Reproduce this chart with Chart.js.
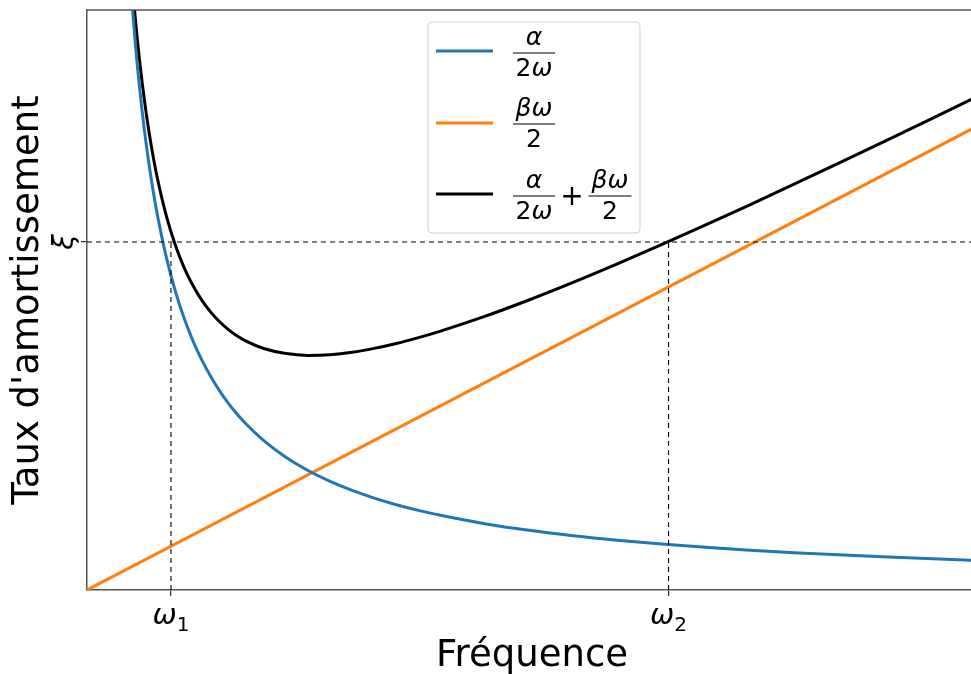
<!DOCTYPE html>
<html>
<head>
<meta charset="utf-8">
<script src="https://cdn.jsdelivr.net/npm/chart.js@4/dist/chart.umd.min.js"></script>
<style>
  html, body { margin: 0; padding: 0; background: #fff; overflow: hidden; }
  #wrap { width: 977px; height: 674px; }
</style>
</head>
<body>
<div id="wrap"><canvas id="mycanvas"></canvas></div>
<script>
// values (x: frequency, y: damping ratio)
var omega = [0.45, 0.5, 0.55, 0.6, 0.65, 0.7, 0.75, 0.8, 0.9, 1.0, 1.1, 1.2, 1.3, 1.4, 1.5, 1.6, 1.7, 1.8, 2.0, 2.25, 2.5, 2.75, 3.0, 3.25, 3.5, 3.75, 4.0, 4.5, 5.0, 5.5, 6.0, 6.5, 7.0, 7.5, 8.0, 8.5, 9.0, 9.5, 10.0, 10.5];
var alphaPart = [11.444, 10.30, 9.364, 8.583, 7.923, 7.357, 6.867, 6.438, 5.722, 5.150, 4.682, 4.292, 3.962, 3.679, 3.433, 3.219, 3.029, 2.861, 2.575, 2.289, 2.060, 1.873, 1.717, 1.585, 1.471, 1.373, 1.288, 1.144, 1.030, 0.936, 0.858, 0.792, 0.736, 0.687, 0.644, 0.606, 0.572, 0.542, 0.515, 0.490];
var totalPart = [11.801, 10.697, 9.801, 9.059, 8.439, 7.913, 7.463, 7.073, 6.437, 5.944, 5.555, 5.245, 4.994, 4.791, 4.624, 4.489, 4.379, 4.290, 4.163, 4.076, 4.045, 4.057, 4.099, 4.166, 4.250, 4.351, 4.464, 4.717, 5.000, 5.303, 5.622, 5.953, 6.294, 6.642, 6.996, 7.355, 7.718, 8.085, 8.455, 8.827];
var betaX = [0, 10.5];
var betaPart = [0, 8.337];
var omega1 = 0.95;
var omega2 = 6.58;
var xi = 6.0;
var xTickLabels = [["ω", "1"], ["ω", "2"]];
var yTickLabel = "ξ";

function pts(xs, ys) {
	var out = [];
	for (var i in xs) out.push({x: xs[i], y: ys[i]});
	return out;
}

var dashed = {
	borderColor: "#000",
	borderWidth: 1.1,
	borderDash: [5, 4],
	pointRadius: 0,
	fill: false
};

var chartdata = {
	datasets: [
		Object.assign({label: "xi", data: [{x: 0, y: xi}, {x: 10.5, y: xi}]}, dashed),
		Object.assign({label: "w1", data: [{x: omega1, y: 0}, {x: omega1, y: xi}]}, dashed),
		Object.assign({label: "w2", data: [{x: omega2, y: 0}, {x: omega2, y: xi}]}, dashed),
		{
			label: "alpha",
			data: pts(omega, alphaPart),
			borderColor: "#1f77b4",
			borderWidth: 3,
			pointRadius: 0,
			cubicInterpolationMode: "monotone",
			fill: false
		},
		{
			label: "beta",
			data: pts(betaX, betaPart),
			borderColor: "#ff7f0e",
			borderWidth: 3,
			pointRadius: 0,
			fill: false
		},
		{
			label: "sum",
			data: pts(omega, totalPart),
			borderColor: "#000000",
			borderWidth: 3,
			pointRadius: 0,
			cubicInterpolationMode: "monotone",
			fill: false
		}
	]
};

var SANS = "'DejaVu Sans', sans-serif";

// draws a run of [text, italic] pieces centred on cx
function mathText(ctx, parts, cx, y, size) {
	var w = 0;
	parts.forEach(function(p) {
		ctx.font = (p[1] ? "italic " : "") + size + "px " + SANS;
		p.w = ctx.measureText(p[0]).width;
		w += p.w;
	});
	var x = cx - w / 2;
	ctx.textAlign = "left";
	parts.forEach(function(p) {
		ctx.font = (p[1] ? "italic " : "") + size + "px " + SANS;
		ctx.fillText(p[0], x, y);
		x += p.w;
	});
}

function frac(ctx, cx, y, num, den, w) {
	mathText(ctx, num, cx, y - 15, 25);
	mathText(ctx, den, cx, y + 16, 25);
	ctx.beginPath();
	ctx.moveTo(cx - w / 2, y);
	ctx.lineTo(cx + w / 2, y);
	ctx.lineWidth = 1.2;
	ctx.strokeStyle = "#000";
	ctx.stroke();
}

var extras = {
	id: "extras",
	afterDraw: function(chart) {
		var ctx = chart.ctx;
		var a = chart.chartArea;
		ctx.save();
		// top spine
		ctx.strokeStyle = "#555";
		ctx.lineWidth = 1.5;
		ctx.beginPath();
		ctx.moveTo(a.left, a.top);
		ctx.lineTo(a.right, a.top);
		ctx.stroke();

		ctx.fillStyle = "#000";
		// y tick label, turned like the axis title
		var py = chart.scales.y.getPixelForValue(xi);
		ctx.save();
		ctx.translate(a.left - 21, py);
		ctx.rotate(-Math.PI / 2);
		ctx.textAlign = "center";
		ctx.textBaseline = "middle";
		ctx.font = "italic 28px " + SANS;
		ctx.fillText(yTickLabel, 0, 0);
		ctx.restore();

		// x tick labels (omega with upright subscript)
		ctx.textBaseline = "alphabetic";
		[omega1, omega2].forEach(function(v, i) {
			var px = chart.scales.x.getPixelForValue(v);
			ctx.textAlign = "left";
			ctx.font = "italic 29px " + SANS;
			var w1 = ctx.measureText(xTickLabels[i][0]).width;
			ctx.font = "20px " + SANS;
			var w2 = ctx.measureText(xTickLabels[i][1]).width;
			var x0 = px - (w1 + w2) / 2;
			ctx.font = "italic 29px " + SANS;
			ctx.fillText(xTickLabels[i][0], x0, a.bottom + 34);
			ctx.font = "20px " + SANS;
			ctx.fillText(xTickLabels[i][1], x0 + w1, a.bottom + 41);
		});

		// legend box
		var bx = 428, by = 22, bw = 212, bh = 211;
		ctx.beginPath();
		if (ctx.roundRect) ctx.roundRect(bx, by, bw, bh, 4); else ctx.rect(bx, by, bw, bh);
		ctx.fillStyle = "rgba(255,255,255,0.85)";
		ctx.fill();
		ctx.strokeStyle = "#d0d0d0";
		ctx.lineWidth = 1;
		ctx.stroke();

		var rows = [
			{y: 51, c: "#1f77b4"},
			{y: 123, c: "#ff7f0e"},
			{y: 194, c: "#000000"}
		];
		ctx.lineWidth = 3;
		rows.forEach(function(r) {
			ctx.strokeStyle = r.c;
			ctx.beginPath();
			ctx.moveTo(436, r.y);
			ctx.lineTo(493, r.y);
			ctx.stroke();
		});

		ctx.fillStyle = "#000";
		ctx.textBaseline = "middle";
		frac(ctx, 534, 53, [["α", true]], [["2", false], ["ω", true]], 42);
		frac(ctx, 534, 124, [["β", true], ["ω", true]], [["2", false]], 42);
		frac(ctx, 534, 196, [["α", true]], [["2", false], ["ω", true]], 42);
		frac(ctx, 610, 196, [["β", true], ["ω", true]], [["2", false]], 43);
		ctx.textAlign = "center";
		ctx.font = "28px " + SANS;
		ctx.fillText("+", 572, 198);
		ctx.restore();
	}
};

var ctx = document.getElementById("mycanvas");

var LineGraph = new Chart(ctx, {
	type: "line",
	data: chartdata,
	plugins: [extras],
	options: {
		responsive: true,
		maintainAspectRatio: false,
		animation: false,
		layout: {padding: {top: 8, right: 0, left: 0, bottom: 0}},
		plugins: {
			legend: {display: false},
			tooltip: {enabled: false}
		},
		scales: {
			x: {
				type: "linear",
				min: 0,
				max: 10.07,
				afterBuildTicks: function(axis) {
					axis.ticks = [{value: omega1}, {value: omega2}];
				},
				afterFit: function(axis) { axis.height = 84; },
				grid: {drawOnChartArea: false, drawTicks: true, tickLength: 6, color: "#333", lineWidth: 1.2},
				border: {display: true, color: "#555", width: 1.5},
				ticks: {
					color: "#000",
					font: {family: SANS, size: 27},
					padding: 2,
					maxRotation: 0,
					callback: function() { return ""; }
				},
				title: {
					display: true,
					text: "Fréquence",
					color: "#000",
					font: {family: SANS, size: 37},
					padding: {top: 0, bottom: -5}
				}
			},
			y: {
				type: "linear",
				min: 0,
				max: 10,
				afterBuildTicks: function(axis) {
					axis.ticks = [{value: xi}];
				},
				afterFit: function(axis) { axis.width = 87; },
				grid: {drawOnChartArea: false, drawTicks: true, tickLength: 6, color: "#333", lineWidth: 1.2},
				border: {display: true, color: "#555", width: 1.5},
				ticks: {
					color: "#000",
					font: {family: SANS, size: 10},
					padding: 4,
					callback: function() { return ""; }
				},
				title: {
					display: true,
					text: "Taux d'amortissement",
					color: "#000",
					font: {family: SANS, size: 37},
					padding: {top: 6, bottom: 0}
				}
			}
		}
	}
});
</script>
</body>
</html>
